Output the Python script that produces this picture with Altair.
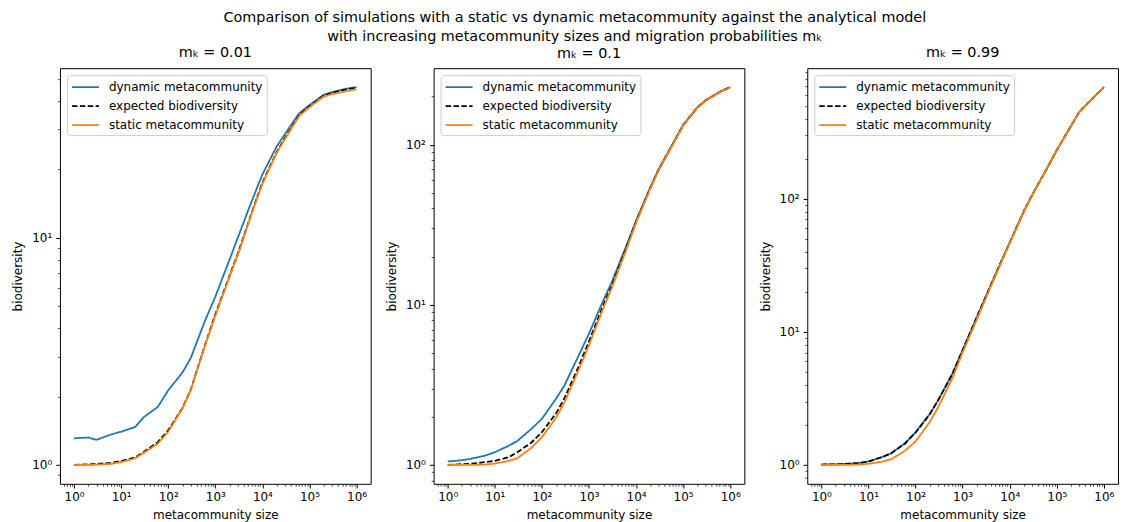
import math
import altair as alt
import pandas as pd

SIZES = [1, 2, 3, 6, 10, 20, 30, 60, 100, 200, 300, 600, 1000, 2000, 3000, 6000,
         10000, 20000, 30000, 60000, 100000, 200000, 300000, 600000, 1000000]

SERIES = ["dynamic metacommunity", "expected biodiversity", "static metacommunity"]
COLORS = ["#1f77b4", "#000000", "#ff7f0e"]
DASHES = [[1, 0], [5.5, 2.4], [1, 0]]

# m_k = 0.01
DYN_1 = [1.31, 1.32, 1.29, 1.36, 1.40, 1.47, 1.62, 1.80, 2.13, 2.55, 2.95, 4.3, 5.5, 8.0, 10.0,
         14.6, 19.0, 25.2, 28.6, 35.3, 38.4, 42.6, 43.8, 45.3, 46.1]
EXP_1 = [1.0, 1.005, 1.01, 1.02, 1.04, 1.08, 1.14, 1.26, 1.42, 1.78, 2.14, 3.36, 4.6, 6.8, 8.5,
         13.0, 17.5, 23.8, 27.5, 34.6, 38.0, 42.3, 43.5, 45.0, 45.8]
STA_1 = [1.0, 1.0, 1.003, 1.01, 1.03, 1.07, 1.13, 1.24, 1.40, 1.77, 2.13, 3.34, 4.53, 6.73, 8.4,
         12.9, 17.3, 23.6, 27.2, 34.3, 37.6, 41.9, 42.9, 44.2, 45.1]

# m_k = 0.1
DYN_2 = [1.05, 1.07, 1.09, 1.14, 1.2, 1.32, 1.41, 1.68, 1.94, 2.59, 3.13, 4.8, 6.6, 10.6, 13.7,
         22.8, 33.5, 54, 70, 101, 133, 171, 189, 214, 229]
EXP_2 = [1.0, 1.01, 1.015, 1.04, 1.06, 1.12, 1.2, 1.38, 1.6, 2.1, 2.6, 4.1, 5.9, 9.9, 13.0,
         22.0, 33.0, 53.5, 69.5, 100.5, 132, 170.5, 188.5, 213.5, 228.5]
STA_2 = [1.0, 1.0, 1.0, 1.005, 1.02, 1.06, 1.1, 1.28, 1.49, 1.97, 2.45, 3.9, 5.6, 9.5, 12.6,
         21.5, 32.5, 53, 69, 100, 131.5, 170, 188, 213, 228]

# m_k = 0.99
DYN_3 = [1.006, 1.011, 1.016, 1.031, 1.062, 1.15, 1.22, 1.46, 1.76, 2.41, 3.05, 4.8, 7.3, 12.9, 17.9,
         31.3, 46.8, 80.7, 107, 166, 232, 353, 449, 577, 692]
EXP_3 = [1.005, 1.01, 1.015, 1.03, 1.06, 1.15, 1.22, 1.45, 1.75, 2.4, 3.05, 4.8, 7.3, 12.9, 17.9,
         31.3, 46.8, 80.7, 107, 166, 232, 353, 449, 577, 692]
STA_3 = [1.0, 1.0, 1.0, 1.005, 1.02, 1.06, 1.1, 1.28, 1.5, 2.1, 2.7, 4.45, 7.0, 12.4, 17.4,
         30.8, 46.4, 80.1, 106.5, 165.5, 231.5, 352, 448, 576, 691]

PANELS = [
    ("mₖ = 0.01", DYN_1, EXP_1, STA_1, 0),
    ("mₖ = 0.1", DYN_2, EXP_2, STA_2, 1),
    ("mₖ = 0.99", DYN_3, EXP_3, STA_3, 0),
]

TITLE_LINES = [
    "Comparison of simulations with a static vs dynamic metacommunity against the analytical model",
    "with increasing metacommunity sizes and migration probabilities mₖ",
]

FONT = "DejaVu Sans"
SUP = "['⁰','¹','²','³','⁴','⁵','⁶','⁷','⁸','⁹']"
EXPON = "round(log(datum.value)/LN10)"
DEC = f"abs(log(datum.value)/LN10 - {EXPON}) < 0.001"
LABEL = f"{DEC} ? '10' + {SUP}[{EXPON}] : ''"


def log_ticks(lo, hi):
    out = []
    for e in range(-2, 8):
        for k in range(1, 10):
            v = round(k * 10.0 ** e, 8)
            if lo * 1.005 <= v <= hi / 1.005:
                out.append(v)
    return out


def axis(title, values, lpad, tpad):
    return alt.Axis(
        title=title,
        values=values,
        labelExpr=LABEL,
        labelOverlap=False,
        labelFlush=False,
        labelBound=False,
        grid=False,
        domain=False,
        tickSize={"condition": {"test": DEC, "value": 4.2}, "value": 2.4},
        tickWidth={"condition": {"test": DEC, "value": 1.0}, "value": 0.7},
        labelFontSize={"condition": {"test": DEC, "value": 12}, "value": 0},
        tickColor="black",
        labelPadding=lpad,
        titlePadding=tpad,
        labelFont=FONT,
        labelColor="black",
        titleFont=FONT,
        titleFontSize=12,
        titleFontWeight="normal",
        titleColor="black",
    )


def legend():
    return alt.Legend(
        title=None,
        orient="top-left",
        offset=7,
        padding=4,
        strokeColor="#cccccc",
        fillColor="rgba(255,255,255,0.8)",
        cornerRadius=3,
        symbolType="M-1,0H2.86",
        symbolSize=196,
        symbolStrokeWidth=1.8,
        labelFont=FONT,
        labelFontSize=12,
        labelColor="black",
        labelOffset=22,
        rowPadding=5,
    )


def panel(title, dyn, exp, sta, tdy):
    rows = []
    for name, vals in zip(SERIES, [dyn, exp, sta]):
        for s, v in zip(SIZES, vals):
            rows.append({"size": s, "value": v, "series": name})
    df = pd.DataFrame(rows)
    vals = dyn + exp + sta
    ymin, ymax = min(vals), max(vals)
    r = math.log10(ymax / ymin)
    ydom = [ymin * 10 ** (-0.05 * r), ymax * 10 ** (0.05 * r)]
    xr = math.log10(max(SIZES) / min(SIZES))
    xdom = [min(SIZES) * 10 ** (-0.05 * xr), max(SIZES) * 10 ** (0.05 * xr)]
    return alt.Chart(df).mark_line(strokeWidth=1.8, clip=True).encode(
        x=alt.X("size:Q", scale=alt.Scale(type="log", domain=xdom, nice=False),
                axis=axis("metacommunity size", log_ticks(*xdom), 4, 7)),
        y=alt.Y("value:Q", scale=alt.Scale(type="log", domain=ydom, nice=False),
                axis=axis("biodiversity", log_ticks(*ydom), 4, 7)),
        color=alt.Color("series:N", scale=alt.Scale(domain=SERIES, range=COLORS), legend=legend()),
        strokeDash=alt.StrokeDash("series:N", scale=alt.Scale(domain=SERIES, range=DASHES), legend=legend()),
    ).properties(
        width=311,
        height=416,
        title=alt.TitleParams(title, font=FONT, fontSize=14.4, fontWeight="normal",
                              color="black", anchor="middle", offset=8, dy=tdy),
    )


charts = [panel(*p) for p in PANELS]

chart = alt.hconcat(
    *charts,
    spacing=63,
    bounds="flush",
    title=alt.TitleParams(TITLE_LINES, font=FONT, fontSize=14.4, fontWeight="normal",
                          color="black", anchor="middle", lineHeight=18.5, offset=0, dx=10),
).resolve_scale(
    color="independent", strokeDash="independent"
).resolve_legend(
    color="independent", strokeDash="independent"
).properties(
    padding={"left": 3, "top": 2, "right": 0, "bottom": 0},
).configure_view(
    stroke="black", strokeWidth=1
)

chart.save("out.html", embed_options={"renderer": "svg", "actions": False})
